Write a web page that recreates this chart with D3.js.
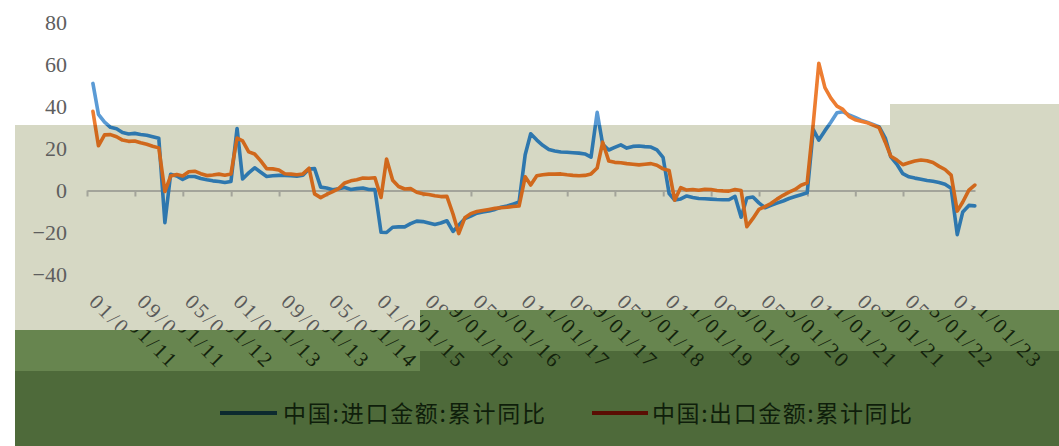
<!DOCTYPE html>
<html><head><meta charset="utf-8">
<script src="https://cdn.jsdelivr.net/npm/d3@7"></script>
<style>body{margin:0;background:#fff;overflow:hidden} svg{display:block}</style>
</head><body>
<svg id="c" width="1059" height="446"></svg>
<script>
// ---- data (monthly, Jan 2011 .. Apr 2023) ----
const firstYear = 2011;
const importYoY = [
  51.0, 36.3, 32.6, 30.1, 29.4, 27.6, 26.9, 27.2, 26.7, 26.3, 25.6, 24.9,
  -15.3, 7.7, 6.9, 5.3, 6.7, 6.7, 5.7, 5.1, 4.6, 4.3, 3.8, 4.3,
  29.5, 5.5, 8.4, 10.8, 8.7, 6.7, 7.0, 7.2, 7.2, 7.0, 6.8, 7.3,
  10.2, 10.4, 1.6, 1.2, 0.4, 0.8, 1.4, 0.5, 0.9, 1.2, 0.5, 0.4,
  -19.9, -20.0, -17.5, -17.3, -17.3, -15.8, -14.6, -14.8, -15.5, -16.2, -15.5, -14.4,
  -19.5, -16.5, -13.4, -12.2, -10.8, -10.2, -9.8, -9.0, -8.0, -7.4, -6.5, -5.5,
  17.0, 27.0, 24.0, 21.5, 19.5, 18.8, 18.3, 18.2, 18.0, 17.8, 17.4, 15.9,
  37.2, 22.0, 19.3, 20.5, 21.7, 20.2, 21.0, 21.2, 20.9, 20.7, 19.3, 15.8,
  -1.5, -4.5, -4.0, -2.6, -3.3, -3.8, -3.9, -4.1, -4.3, -4.4, -4.4, -2.8,
  -12.7, -3.6, -3.1, -5.9, -8.2, -7.1, -6.0, -5.0, -3.8, -2.9, -2.0, -1.1,
  29.0, 24.0, 28.5, 32.5, 37.0, 37.5, 36.0, 34.8, 33.5, 32.5, 31.5, 30.3,
  25.0, 16.0, 12.5, 8.0, 6.5, 5.9, 5.4, 4.8, 4.4, 3.8, 3.0, 1.1,
  -21.0, -10.2, -7.1, -7.3
];
const exportYoY = [
  37.7, 21.3, 26.5, 26.6, 25.6, 24.0, 23.4, 23.6, 22.7, 22.0, 21.1, 20.3,
  -0.5, 6.9, 7.6, 6.9, 8.9, 9.2, 8.0, 7.1, 7.4, 7.8, 7.3, 7.9,
  25.0, 23.6, 18.4, 17.4, 14.1, 10.4, 10.3, 9.8, 8.0, 7.8, 7.5, 7.9,
  10.6, -1.6, -3.4, -1.9, -0.5, 0.9, 3.6, 4.6, 5.1, 5.9, 5.8, 6.1,
  -3.3, 15.0, 4.9, 1.9, 0.7, 0.9, -0.8, -1.6, -1.9, -2.5, -2.9, -2.8,
  -11.2, -20.5, -13.0, -11.0, -10.0, -9.5, -9.0, -8.5, -8.2, -8.0, -7.6, -7.4,
  6.5, 2.6, 7.0, 7.5, 7.8, 7.8, 7.9, 7.5, 7.2, 7.0, 7.2, 7.9,
  10.7, 23.0, 14.0, 13.4, 13.2, 12.8, 12.5, 12.2, 12.5, 12.8, 12.0, 10.3,
  9.5, -4.6, 1.4, 0.2, 0.5, 0.1, 0.6, 0.5, 0.0, -0.2, -0.3, 0.5,
  0.0, -17.2, -13.3, -9.0, -7.7, -6.2, -4.1, -2.3, -0.8, 0.5, 2.5, 3.6,
  32.0, 60.6, 49.0, 44.0, 40.2, 38.6, 35.3, 33.7, 33.0, 32.3, 31.1, 29.9,
  23.0, 16.3, 14.5, 12.3, 13.2, 14.0, 14.5, 14.2, 13.3, 11.5, 10.0, 7.3,
  -9.8, -5.5, 0.2, 2.6
];
const yTicks = [-40, -20, 0, 20, 40, 60, 80];
const tickLabels = ["01/01/11","09/01/11","05/01/12","01/01/13","09/01/13","05/01/14",
  "01/01/15","09/01/15","05/01/16","01/01/17","09/01/17","05/01/18","01/01/19",
  "09/01/19","05/01/20","01/01/21","09/01/21","05/01/22","01/01/23"];
const seriesNames = ["中国:进口金额:累计同比", "中国:出口金额:累计同比"];

// ---- layout ----
const svg = d3.select("#c");
const W = 1059, H = 446;
const x = d3.scaleTime().domain([new Date(2011, 0, 1), new Date(2023, 4, 1)]).range([87, 975]);
const y = d3.scaleLinear().domain([-50, 80]).range([295.5, 22.5]);

const dates = importYoY.map((_, i) => new Date(firstYear, i + 1, 0)); // month-end
const tickDates = tickLabels.map(s => {
  const [m, d, yy] = s.split("/").map(Number);
  return new Date(2000 + yy, m - 1, d);
});

// background regions
const beigePts = [[15,125],[890,125],[890,104],[1059,104],[1059,310],[420,310],[420,330],[15,330]];
const defs = svg.append("defs");
const clip = (id, pts) => defs.append("clipPath").attr("id", id)
  .append("polygon").attr("points", pts.map(p => p.join(",")).join(" "));
clip("cWhite", [[0,0],[W,0],[W,104],[890,104],[890,125],[0,125]]);
clip("cBody", [[0,125],[890,125],[890,104],[W,104],[W,H],[0,H]]);
clip("cBeige", [[0,0],[W,0],[W,310],[420,310],[420,330],[0,330]]);
clip("cGreen", [[0,330],[420,330],[420,310],[W,310],[W,H],[0,H]]);

svg.append("rect").attr("width", W).attr("height", H).attr("fill", "#ffffff");
svg.append("polygon").attr("points", beigePts.map(p => p.join(",")).join(" ")).attr("fill", "#d6d8c4");
svg.append("rect").attr("x", 15).attr("y", 330).attr("width", 405).attr("height", 41).attr("fill", "#67854f");
svg.append("rect").attr("x", 420).attr("y", 310).attr("width", W - 420).attr("height", 41).attr("fill", "#67854f");
svg.append("rect").attr("x", 15).attr("y", 371).attr("width", 405).attr("height", H - 371).attr("fill", "#4e6a3a");
svg.append("rect").attr("x", 420).attr("y", 351).attr("width", W - 420).attr("height", H - 351).attr("fill", "#4e6a3a");

// y axis labels
const yAxis = svg.append("g").attr("transform", "translate(67,0)")
  .call(d3.axisLeft(y).tickValues(yTicks).tickSize(0).tickPadding(0).tickFormat(d3.format("d")));
yAxis.select(".domain").remove();
yAxis.selectAll("text").attr("font-family", "'Liberation Serif', serif").attr("font-size", 22)
  .attr("fill", "#5e5e5e");

// x axis line at zero with ticks
const xAxis = svg.append("g").attr("transform", `translate(0,${y(0)})`)
  .call(d3.axisBottom(x).tickValues(tickDates).tickSize(6).tickSizeOuter(0).tickFormat(""));
xAxis.select(".domain").attr("stroke", "#a3a49a").attr("stroke-width", 2);
xAxis.selectAll(".tick line").attr("stroke", "#a3a49a").attr("stroke-width", 2);

// x labels: drawn in beige region and (shifted) in green region
function drawLabels(g, color) {
  g.selectAll("text").data(tickLabels).join("text")
    .attr("transform", (d, i) => `translate(${x(tickDates[i]) + 1},303) rotate(45)`)
    .attr("font-family", "'Liberation Serif', serif").attr("font-size", 21)
    .attr("textLength", 92).attr("lengthAdjust", "spacing")
    .attr("fill", color).text(d => d);
}
drawLabels(svg.append("g").attr("clip-path", "url(#cBeige)"), "#5a5a5a");
drawLabels(svg.append("g").attr("clip-path", "url(#cGreen)").append("g").attr("transform", "translate(15,0)"), "#13220c");

// lines
const line = d3.line().x((d, i) => x(dates[i])).y(d => y(d)).curve(d3.curveLinear);
const series = [
  { values: importYoY, light: "#5b9bd5", dark: "#2e77ae" },
  { values: exportYoY, light: "#ed7d31", dark: "#d0681c" }
];
[["cWhite", "light"], ["cBody", "dark"]].forEach(([cid, key]) => {
  const g = svg.append("g").attr("clip-path", `url(#${cid})`);
  series.forEach(s => {
    g.append("path").attr("d", line(s.values)).attr("fill", "none")
      .attr("stroke", s[key]).attr("stroke-width", 3.6)
      .attr("stroke-linejoin", "round").attr("stroke-linecap", "round");
  });
});

// legend
const legend = [
  { name: seriesNames[0], color: "#0c2a2f", x0: 220, x1: 277, tx: 283, tl: 262 },
  { name: seriesNames[1], color: "#5a0d03", x0: 592, x1: 648, tx: 652, tl: 260 }
];
legend.forEach(l => {
  svg.append("line").attr("x1", l.x0).attr("x2", l.x1).attr("y1", 413).attr("y2", 413)
    .attr("stroke", l.color).attr("stroke-width", 4);
  svg.append("text").attr("x", l.tx).attr("y", 422)
    .attr("font-family", "'Noto Sans CJK SC', sans-serif").attr("font-size", 23)
    .attr("textLength", l.tl).attr("lengthAdjust", "spacing")
    .attr("fill", "#0f1e0b").text(l.name);
});
</script>
</body></html>
